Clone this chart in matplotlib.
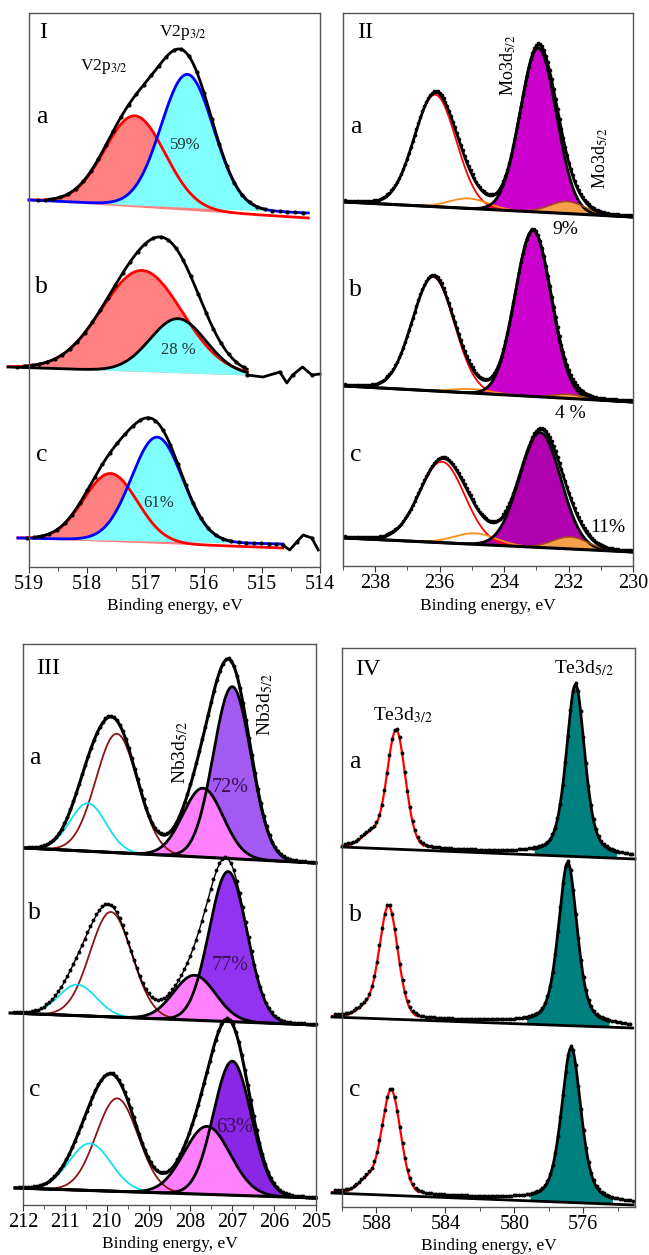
import numpy as np
import matplotlib.pyplot as plt
from matplotlib.ticker import MultipleLocator, FormatStrFormatter

plt.rcParams['font.family'] = ['Liberation Serif', 'DejaVu Serif']
plt.rcParams['mathtext.fontset'] = 'stix'

rows = ['a', 'b', 'c']

# ---- panel I, V2p3/2 (eV, intensity a.u.) ----
v_start = [519.0, 519.36, 519.19]
v_stop = [514.2, 515.25, 514.64]
v_base_l = [367, 200, 29]
v_base_r = [354, 192, 23]
v_red_drop = [5, 0, 4]
v5_pos = [517.18, 517.06, 517.6]
v5_amp = [91, 101, 68]
v5_wid = [0.52, 0.69, 0.46]
v4_pos = [516.28, 516.44, 516.8]
v4_amp = [133, 54, 104]
v4_wid = [0.45, 0.48, 0.44]
v4_share = ['59%', '28 %', '61%']
v_share_e = [516.32, 516.44, 516.78]
v_share_y = [422, 217, 64]
# noisy ends of spectra b and c
v_tail_e = [[], [515.25, 514.98, 514.69, 514.57, 514.47, 514.30, 514.14, 514.0],
            [514.64, 514.52, 514.40, 514.29, 514.14, 514.03]]
v_tail_i = [[], [192, 190, 195, 184, 192, 200, 192, 193],
            [22, 17, 25, 32, 29, 17]]

# ---- panel II, Mo3d ----
mo_start = [238.94, 238.94, 238.94]
mo_stop = [230.0, 230.0, 230.0]
mo_base_l = [364, 180, 28]
mo_base_r = [349, 164, 14]
mo6_32_pos = [236.14, 236.2, 235.93]
mo6_32_amp = [112, 114, 81]
mo6_32_wid = [0.65, 0.65, 0.7]
mo6_52_pos = [232.94, 233.1, 232.88]
mo6_52_amp = [164, 166, 115]
mo6_52_wid = [0.56, 0.56, 0.64]
mo5_52_pos = [232.04, 232.0, 231.95]
mo5_52_amp = [12, 4, 12]
mo5_52_wid = [0.55, 0.5, 0.55]
mo5_32_pos = [235.1, 235.0, 234.9]
mo5_32_amp = [10, 4, 11]
mo5_32_wid = [0.6, 0.6, 0.65]
mo_share = ['9%', '4 %', '11%']
mo_share_e = [232.1, 231.95, 230.77]
mo_share_y = [336, 153, 38]
mo_fill = ['#CC00CC', '#CC00CC', '#B000B0']

# ---- panel III, Nb3d ----
nb_start = [211.95, 212.31, 212.19]
nb_stop = [205.0, 205.0, 205.0]
nb_base_l = [357, 192, 17]
nb_base_r = [342, 180, 7]
nb32a_pos = [209.76, 209.9, 209.75]
nb32a_amp = [119, 105, 93]
nb32a_wid = [0.5, 0.5, 0.5]
nb32b_pos = [210.45, 210.7, 210.4]
nb32b_amp = [48, 31, 47]
nb32b_wid = [0.43, 0.45, 0.5]
nb52b_pos = [207.7, 207.9, 207.6]
nb52b_amp = [69, 45, 68]
nb52b_wid = [0.48, 0.5, 0.55]
nb52a_pos = [207.0, 207.1, 207.0]
nb52a_amp = [172, 150, 134]
nb52a_wid = [0.45, 0.45, 0.45]
nb_share = ['72%', '77%', '63%']
nb_share_e = [207.06, 207.06, 206.94]
nb_share_y = [418, 240, 77]
nb_fill = ['#A35AF2', '#9233F2', '#8A26E6']

# ---- panel IV, Te3d ----
te_start = [590.0, 590.58, 590.58]
te_stop = [573.0, 573.14, 573.1]
te_base_l = [360, 190, 14]
te_base_r = [348, 179, 2]
te32_pos = [586.86, 587.3, 587.15]
te32_amp = [119, 113, 105]
te32_fwhm = [1.28, 1.28, 1.3]
te32s_pos = [588.4, 588.7, 588.6]
te32s_amp = [12, 8, 12]
te52_pos = [576.45, 576.9, 576.7]
te52_amp = [172, 163, 155]
te52_fwhm = [1.28, 1.3, 1.35]


def gauss(e, pos, amp, wid):
    return amp * np.exp(-(e - pos) ** 2 / (2 * wid ** 2))


def pvoigt(e, pos, amp, fwhm, eta=0.5):
    g = np.exp(-4 * np.log(2) * (e - pos) ** 2 / fwhm ** 2)
    l = 1 / (1 + 4 * (e - pos) ** 2 / fwhm ** 2)
    return amp * (eta * l + (1 - eta) * g)


def base(e, e0, e1, b0, b1):
    return b0 + (b1 - b0) * (e - e0) / (e1 - e0)


def rect(l, r, t, b):
    return [l / 649, 1 - b / 1255, (r - l) / 649, (b - t) / 1255]


def style(ax, lo, hi, major, minor, top):
    ax.set_xlim(lo, hi)
    ax.set_ylim(0, top)
    ax.xaxis.set_major_locator(MultipleLocator(major))
    ax.xaxis.set_minor_locator(MultipleLocator(minor))
    ax.xaxis.set_major_formatter(FormatStrFormatter('%d'))
    ax.set_yticks([])
    ax.tick_params(axis='x', which='both', direction='out', labelsize=14.5, pad=2, color='#333')
    ax.tick_params(axis='x', which='major', length=4)
    ax.tick_params(axis='x', which='minor', length=3)
    ax.set_xlabel('Binding energy, eV', fontsize=12.5, labelpad=3)
    for s in ax.spines.values():
        s.set_color('#555')
        s.set_linewidth(1)


fig = plt.figure(figsize=(6.49, 12.55), dpi=100)

# ================= panel I =================
ax = fig.add_axes(rect(29, 320, 13, 567))
style(ax, 519, 514, 1, 0.5, 554)
for i in range(3):
    E = np.linspace(v_start[i], v_stop[i], 500)
    bl = base(E, v_start[i], v_stop[i], v_base_l[i], v_base_r[i])
    blr = base(E, v_start[i], v_stop[i], v_base_l[i], v_base_r[i] - v_red_drop[i])
    red = gauss(E, v5_pos[i], v5_amp[i], v5_wid[i])
    cyan = gauss(E, v4_pos[i], v4_amp[i], v4_wid[i])
    ax.fill_between(E, blr, blr + red, color='#FF8080', lw=0, clip_on=False)
    ax.plot(E, blr + red, color='red', lw=2, clip_on=False)
    ax.fill_between(E, bl, bl + cyan, color='#80FFFF', lw=0, clip_on=False)
    ax.plot(E, bl + cyan, color='black' if i == 1 else 'blue', lw=2, clip_on=False)
    env = bl + red + cyan
    m = (env - bl) > 1.5
    ax.plot(E[m], env[m], color='black', lw=2, clip_on=False)
    Ed = np.arange(v_start[i] - 0.15, v_stop[i], -0.13)
    ed = np.interp(Ed[::-1], E[::-1], env[::-1])[::-1]
    ax.plot(Ed, ed, 'o', color='black', ms=2, clip_on=False)
    if v_tail_e[i]:
        ax.plot(v_tail_e[i], v_tail_i[i], color='black', lw=2, clip_on=False)
        ax.plot(v_tail_e[i][::2], v_tail_i[i][::2], 'o', color='black', ms=2)
    ax.text(v_share_e[i], v_share_y[i], v4_share[i],
            fontsize=12, color='#1d3333', ha='center', va='center')

ax.text(518.76, 534, 'I', fontsize=17.5, ha='center', va='center')
ax.text(516.35, 534, r'V2p$_{3/2}$', fontsize=12.5, ha='center', va='center')
ax.text(517.71, 500, r'V2p$_{3/2}$', fontsize=12.5, ha='center', va='center')
for lab, y in zip(rows, [450, 280, 112]):
    ax.text(518.78, y, lab, fontsize=18.5, ha='center', va='center')

# ================= panel II =================
ax = fig.add_axes(rect(343, 633, 13, 566))
style(ax, 239, 230, 2, 1, 553)
for i in range(3):
    E = np.linspace(mo_start[i], mo_stop[i], 800)
    bl = base(E, mo_start[i], mo_stop[i], mo_base_l[i], mo_base_r[i])
    red = gauss(E, mo6_32_pos[i], mo6_32_amp[i], mo6_32_wid[i])
    o3 = gauss(E, mo5_32_pos[i], mo5_32_amp[i], mo5_32_wid[i])
    mag = gauss(E, mo6_52_pos[i], mo6_52_amp[i], mo6_52_wid[i])
    o5 = gauss(E, mo5_52_pos[i], mo5_52_amp[i], mo5_52_wid[i])
    ax.plot(E, bl + red, color='red', lw=1.3)
    ax.plot(E, bl + o3, color='#FF8C1A', lw=1.3)
    ax.fill_between(E, bl, bl + mag, color=mo_fill[i], lw=0)
    ax.plot(E, bl + mag, color='black', lw=2)
    ax.fill_between(E, bl, bl + o5, color='#F5A04A', lw=0)
    ax.plot(E, bl + o5, color='#A05010', lw=1)
    env = bl + red + o3 + mag + o5
    ax.plot(E, env, color='black', lw=2)
    Ed = np.arange(mo_start[i], mo_stop[i], -0.06)
    ed = np.interp(Ed[::-1], E[::-1], env[::-1])[::-1]
    ax.plot(Ed, ed + 1.5, 'o', color='black', ms=1.6)
    ax.plot(E, bl, color='black', lw=2.2)
    ax.text(mo_share_e[i], mo_share_y[i], mo_share[i], fontsize=14, ha='center', va='center')

ax.text(238.32, 533, 'II', fontsize=17.5, ha='center', va='center')
ax.text(233.88, 501, r'Mo3d$_{5/2}$', fontsize=13, rotation=90, ha='center', va='center')
ax.text(231.02, 408, r'Mo3d$_{5/2}$', fontsize=13, rotation=90, ha='center', va='center')
for lab, y in zip(rows, [439, 276, 111]):
    ax.text(238.6, y, lab, fontsize=18.5, ha='center', va='center')

# ================= panel III =================
ax = fig.add_axes(rect(23, 316, 644, 1205))
style(ax, 212, 205, 1, 0.5, 561)
for i in range(3):
    E = np.linspace(nb_start[i], nb_stop[i], 800)
    bl = base(E, nb_start[i], nb_stop[i], nb_base_l[i], nb_base_r[i])
    br = gauss(E, nb32a_pos[i], nb32a_amp[i], nb32a_wid[i])
    cy = gauss(E, nb32b_pos[i], nb32b_amp[i], nb32b_wid[i])
    pk = gauss(E, nb52b_pos[i], nb52b_amp[i], nb52b_wid[i])
    pu = gauss(E, nb52a_pos[i], nb52a_amp[i], nb52a_wid[i])
    ax.plot(E, bl + br, color='#8B1414', lw=1.3, clip_on=False)
    ax.plot(E, bl + cy, color='#10E0F0', lw=1.3, clip_on=False)
    ax.fill_between(E, bl, bl + pu, color=nb_fill[i], lw=0)
    ax.plot(E, bl + pu, color='black', lw=2)
    ax.fill_between(E, bl, bl + pk, color='#FF80FF', lw=0)
    ax.plot(E, bl + pk, color='black', lw=2)
    env = bl + br + cy + pk + pu
    ax.plot(E, env, color='black', lw=1 if i == 1 else 2.2, clip_on=False)
    Ed = np.arange(nb_start[i] - 0.1, nb_stop[i], -0.07)
    ed = np.interp(Ed[::-1], E[::-1], env[::-1])[::-1]
    ax.plot(Ed, ed + 1, 'o', color='black', ms=1.8, clip_on=False)
    ax.plot(E, bl, color='black', lw=2.2, clip_on=False)
    ax.text(nb_share_e[i], nb_share_y[i], nb_share[i], fontsize=14.5,
            color='#3a1050', ha='center', va='center')

ax.text(211.4, 537, 'III', fontsize=17.5, ha='center', va='center')
ax.text(208.25, 452, r'Nb3d$_{5/2}$', fontsize=14, rotation=90, ha='center', va='center')
ax.text(206.22, 500, r'Nb3d$_{5/2}$', fontsize=14, rotation=90, ha='center', va='center')
for lab, y in zip(rows, [447, 292, 115]):
    ax.text(211.72, y, lab, fontsize=18.5, ha='center', va='center')

# ================= panel IV =================
ax = fig.add_axes(rect(342, 635, 648, 1207))
style(ax, 590, 573, 4, 2, 559)
for i in range(3):
    E = np.linspace(te_start[i], te_stop[i], 1200)
    bl = base(E, te_start[i], te_stop[i], te_base_l[i], te_base_r[i])
    red = pvoigt(E, te32_pos[i], te32_amp[i], te32_fwhm[i], 0.2) + \
        pvoigt(E, te32s_pos[i], te32s_amp[i], 1.2, 0.2)
    teal = pvoigt(E, te52_pos[i], te52_amp[i], te52_fwhm[i])
    env = bl + red + teal
    m = E >= te32_pos[i] - 1.6
    ax.plot(E[m], (bl + red)[m], color='red', lw=1.6, clip_on=False)
    m = np.abs(E - te52_pos[i]) < 2.4
    ax.fill_between(E[m], bl[m], (bl + teal)[m], color='#007F7F', lw=0)
    ax.plot(E[m], (bl + teal)[m], color='black', lw=2)
    ax.plot(E, bl, color='black', lw=2, clip_on=False)
    Ed = np.arange(te_start[i] - 0.2, te_stop[i], -0.15)
    ed = np.interp(Ed[::-1], E[::-1], env[::-1])[::-1]
    ax.plot(Ed, ed + 1.5, 'o', color='black', ms=1.8, clip_on=False)

ax.text(588.49, 537, 'IV', fontsize=17.5, ha='center', va='center')
ax.text(586.45, 492, r'Te3d$_{3/2}$', fontsize=14, ha='center', va='center')
ax.text(575.99, 539, r'Te3d$_{5/2}$', fontsize=14, ha='center', va='center')
for lab, y in zip(rows, [445, 292, 117]):
    ax.text(589.24, y, lab, fontsize=18.5, ha='center', va='center')

fig.savefig('out.png', dpi=100)
